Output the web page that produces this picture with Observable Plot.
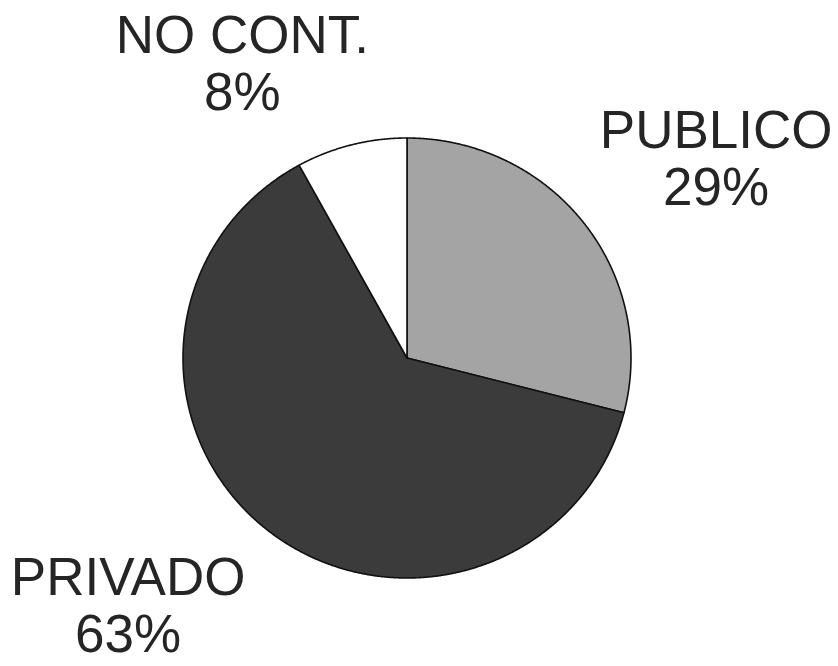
<!DOCTYPE html>
<html>
<head>
<meta charset="utf-8">
<script src="https://cdn.jsdelivr.net/npm/d3@7"></script>
<script src="https://cdn.jsdelivr.net/npm/@observablehq/plot@0.6"></script>
<style>
  html, body { margin: 0; padding: 0; background: #fff; }
  #chart { width: 838px; height: 666px; }
</style>
</head>
<body>
<div id="chart"></div>
<script>
// Data
const categories = ["PUBLICO", "PRIVADO", "NO CONT."];
const values = [29, 63, 8];
const percentLabels = ["29%", "63%", "8%"];

// Slice geometry (clockwise from 12 o'clock) in unit-circle coordinates
const total = d3.sum(values);
const slicePts = [];
let acc = 0;
categories.forEach((cat, i) => {
  const a0 = acc / total * 2 * Math.PI;
  acc += values[i];
  const a1 = acc / total * 2 * Math.PI;
  const n = Math.max(2, Math.ceil((a1 - a0) / 0.004));
  slicePts.push({cat, x: 0, y: 0});
  for (let k = 0; k <= n; k++) {
    const a = a0 + (a1 - a0) * k / n;
    slicePts.push({cat, x: Math.sin(a), y: Math.cos(a)});
  }
  slicePts.push({cat, x: 0, y: 0});
});

// Label placement (unit coordinates)
const labelPlacement = {
  "PUBLICO": [1.38, 0.910],
  "PRIVADO": [-1.245, -1.122],
  "NO CONT.": [-0.735, 1.340]
};
const labelRows = categories.map((c, i) => ({
  text: c + "\n" + percentLabels[i],
  x: labelPlacement[c][0],
  y: labelPlacement[c][1]
}));

const W = 838, H = 666;
const cx = 406.5, cy = 357.5, rx = 224, ry = 220;

const chart = Plot.plot({
  width: W,
  height: H,
  margin: 0,
  style: {background: "#fff", overflow: "visible"},
  x: {domain: [-cx / rx, (W - cx) / rx], axis: null},
  y: {domain: [(cy - H) / ry, cy / ry], axis: null},
  color: {domain: categories, range: ["#a4a4a4", "#3b3b3b", "#ffffff"]},
  marks: [
    Plot.line(slicePts, {
      x: "x", y: "y", z: "cat", fill: "cat",
      stroke: "#111", strokeWidth: 1.6, strokeLinejoin: "round", curve: "linear"
    }),
    Plot.text(labelRows, {
      x: "x", y: "y", text: "text",
      fontSize: 53, fontFamily: "Liberation Sans, Arial, sans-serif",
      fill: "#252525", lineHeight: 1.08, textAnchor: "middle"
    })
  ]
});
document.getElementById("chart").appendChild(chart);
</script>
</body>
</html>
